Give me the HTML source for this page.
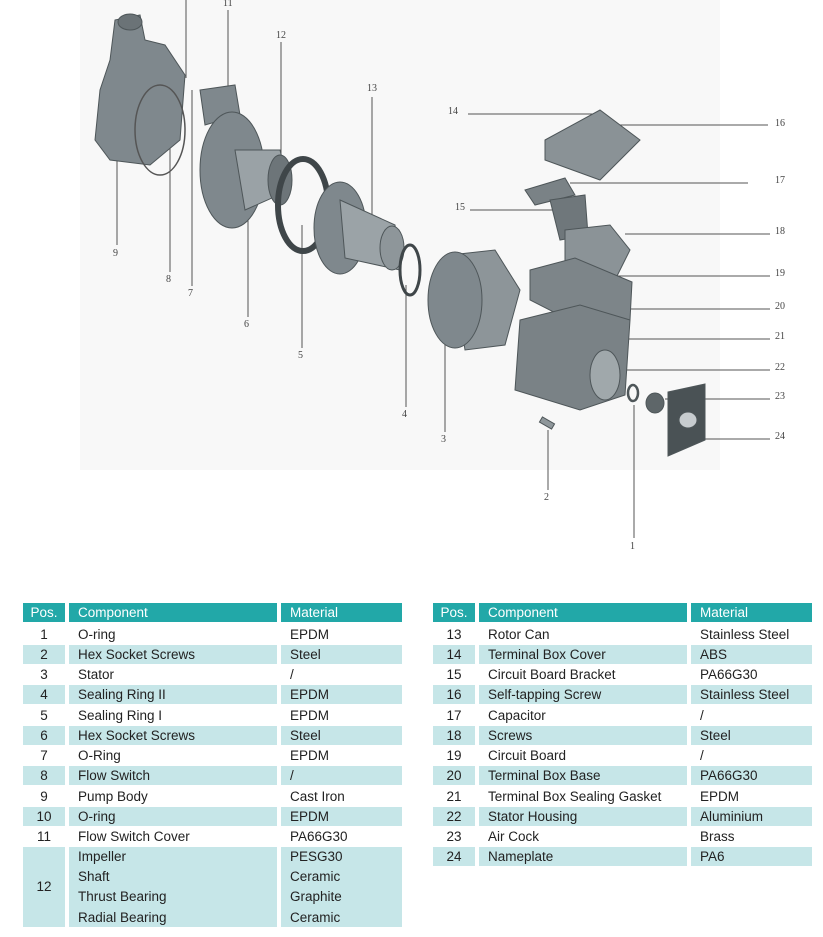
<!DOCTYPE html>
<html><head><meta charset="utf-8"><style>
body{margin:0;width:823px;height:937px;background:#fff;position:relative;overflow:hidden;font-family:"Liberation Sans",sans-serif}
.c{position:absolute;font-size:13.5px;color:#222;line-height:19px;height:19px;white-space:nowrap}
.h{background:#22a8a8;color:#fff}
.s{background:#c6e6e8}
</style></head><body>
<svg width="823" height="590" style="position:absolute;left:0;top:0" font-family="Liberation Serif,serif" font-size="10" fill="#444">
<rect x="80" y="0" width="640" height="470" fill="#f8f8f8"/>
<g stroke="#555" stroke-width="1" fill="none">
<line x1="186" y1="0" x2="186" y2="78"/><line x1="228" y1="10" x2="228" y2="95"/>
<line x1="281" y1="42" x2="281" y2="170"/><line x1="372" y1="97" x2="372" y2="215"/>
<line x1="117" y1="160" x2="117" y2="245"/><line x1="170" y1="80" x2="170" y2="272"/>
<line x1="192" y1="90" x2="192" y2="286"/><line x1="248" y1="130" x2="248" y2="317"/>
<line x1="302" y1="225" x2="302" y2="348"/><line x1="406" y1="285" x2="406" y2="407"/>
<line x1="445" y1="315" x2="445" y2="432"/><line x1="548" y1="430" x2="548" y2="490"/>
<line x1="634" y1="405" x2="634" y2="538"/>
<line x1="468" y1="114" x2="595" y2="114"/><line x1="595" y1="125" x2="768" y2="125"/>
<line x1="570" y1="183" x2="748" y2="183"/><line x1="470" y1="210" x2="560" y2="210"/>
<line x1="625" y1="234" x2="770" y2="234"/><line x1="600" y1="276" x2="770" y2="276"/>
<line x1="600" y1="309" x2="770" y2="309"/><line x1="590" y1="339" x2="770" y2="339"/>
<line x1="625" y1="370" x2="770" y2="370"/><line x1="665" y1="399" x2="770" y2="399"/>
<line x1="680" y1="439" x2="770" y2="439"/>
</g>
<g fill="#7f888d" stroke="#4e5659" stroke-width="1">
<path d="M115 20 L140 15 L145 40 L165 45 L185 75 L180 140 L150 165 L110 160 L95 140 L100 90 L110 60 Z"/>
<ellipse cx="130" cy="22" rx="12" ry="8" fill="#6b7377"/>
<path d="M200 90 L235 85 L240 115 L205 125 Z"/>
<ellipse cx="160" cy="130" rx="25" ry="45" fill="none" stroke="#555" stroke-width="1.5"/>
<ellipse cx="232" cy="170" rx="32" ry="58"/>
<path d="M235 150 L280 150 L290 190 L245 210 Z" fill="#9aa2a6"/>
<ellipse cx="280" cy="180" rx="12" ry="25" fill="#6d7579"/>
<ellipse cx="303" cy="205" rx="25" ry="46" fill="none" stroke="#3f4649" stroke-width="6"/>
<ellipse cx="340" cy="228" rx="26" ry="46"/>
<path d="M340 200 L395 225 L400 270 L345 258 Z" fill="#9ba3a7"/>
<ellipse cx="392" cy="248" rx="12" ry="22" fill="#8e969a"/>
<ellipse cx="410" cy="270" rx="10" ry="25" fill="none" stroke="#3f4649" stroke-width="3"/>
<path d="M450 255 L495 250 L520 290 L505 345 L465 350 Z" fill="#8d9599"/>
<ellipse cx="455" cy="300" rx="27" ry="48"/>
<path d="M545 140 L600 110 L640 140 L600 180 L545 160 Z" fill="#8a9296"/>
<path d="M525 190 L565 178 L575 195 L535 205 Z" fill="#7a8286"/>
<path d="M550 200 L585 195 L588 235 L560 240 Z" fill="#6f777b"/>
<path d="M565 230 L610 225 L630 250 L610 290 L565 280 Z" fill="#8b9397"/>
<path d="M530 270 L575 258 L632 282 L630 320 L585 328 L530 300 Z" fill="#7d8589"/>
<path d="M520 320 L580 305 L630 320 L625 395 L580 410 L515 390 Z" fill="#7a8286"/>
<ellipse cx="605" cy="375" rx="15" ry="25" fill="#a0a8ab"/>
<ellipse cx="633" cy="393" rx="5" ry="8" fill="none" stroke-width="2.5"/>
<ellipse cx="655" cy="403" rx="9" ry="10" fill="#5e6669"/>
<path d="M668 392 L705 384 L705 440 L668 456 Z" fill="#4a5255"/>
<ellipse cx="688" cy="420" rx="9" ry="8" fill="#c7cccf"/>
<rect x="540" y="420" width="14" height="6" transform="rotate(30 547 423)" fill="#8f979b"/>
</g>
<text x="223" y="6">11</text><text x="276" y="38">12</text><text x="367" y="91">13</text>
<text x="113" y="256">9</text><text x="166" y="282">8</text><text x="188" y="296">7</text>
<text x="244" y="327">6</text><text x="298" y="358">5</text><text x="402" y="417">4</text>
<text x="441" y="442">3</text><text x="544" y="500">2</text><text x="630" y="549">1</text>
<text x="448" y="114">14</text><text x="455" y="210">15</text>
<text x="775" y="126">16</text><text x="775" y="183">17</text><text x="775" y="234">18</text>
<text x="775" y="276">19</text><text x="775" y="309">20</text><text x="775" y="339">21</text>
<text x="775" y="370">22</text><text x="775" y="399">23</text><text x="775" y="439">24</text>
</svg>

<div class="c h" style="left:23px;top:603px;width:42px;text-align:center">Pos.</div>
<div class="c h" style="left:69px;top:603px;width:199px;padding-left:9px">Component</div>
<div class="c h" style="left:281px;top:603px;width:112px;padding-left:9px">Material</div>
<div class="c h" style="left:433px;top:603px;width:42px;text-align:center">Pos.</div>
<div class="c h" style="left:479px;top:603px;width:199px;padding-left:9px">Component</div>
<div class="c h" style="left:691px;top:603px;width:112px;padding-left:9px">Material</div>

<div class="c" style="left:23px;top:625px;width:42px;text-align:center">1</div><div class="c" style="left:69px;top:625px;padding-left:9px">O-ring</div><div class="c" style="left:281px;top:625px;padding-left:9px">EPDM</div>
<div class="c s" style="left:23px;top:645px;width:42px;text-align:center">2</div><div class="c s" style="left:69px;top:645px;width:199px;padding-left:9px">Hex Socket Screws</div><div class="c s" style="left:281px;top:645px;width:112px;padding-left:9px">Steel</div>
<div class="c" style="left:23px;top:665px;width:42px;text-align:center">3</div><div class="c" style="left:69px;top:665px;padding-left:9px">Stator</div><div class="c" style="left:281px;top:665px;padding-left:9px">/</div>
<div class="c s" style="left:23px;top:685px;width:42px;text-align:center">4</div><div class="c s" style="left:69px;top:685px;width:199px;padding-left:9px">Sealing Ring II</div><div class="c s" style="left:281px;top:685px;width:112px;padding-left:9px">EPDM</div>
<div class="c" style="left:23px;top:706px;width:42px;text-align:center">5</div><div class="c" style="left:69px;top:706px;padding-left:9px">Sealing Ring I</div><div class="c" style="left:281px;top:706px;padding-left:9px">EPDM</div>
<div class="c s" style="left:23px;top:726px;width:42px;text-align:center">6</div><div class="c s" style="left:69px;top:726px;width:199px;padding-left:9px">Hex Socket Screws</div><div class="c s" style="left:281px;top:726px;width:112px;padding-left:9px">Steel</div>
<div class="c" style="left:23px;top:746px;width:42px;text-align:center">7</div><div class="c" style="left:69px;top:746px;padding-left:9px">O-Ring</div><div class="c" style="left:281px;top:746px;padding-left:9px">EPDM</div>
<div class="c s" style="left:23px;top:766px;width:42px;text-align:center">8</div><div class="c s" style="left:69px;top:766px;width:199px;padding-left:9px">Flow Switch</div><div class="c s" style="left:281px;top:766px;width:112px;padding-left:9px">/</div>
<div class="c" style="left:23px;top:787px;width:42px;text-align:center">9</div><div class="c" style="left:69px;top:787px;padding-left:9px">Pump Body</div><div class="c" style="left:281px;top:787px;padding-left:9px">Cast Iron</div>
<div class="c s" style="left:23px;top:807px;width:42px;text-align:center">10</div><div class="c s" style="left:69px;top:807px;width:199px;padding-left:9px">O-ring</div><div class="c s" style="left:281px;top:807px;width:112px;padding-left:9px">EPDM</div>
<div class="c" style="left:23px;top:827px;width:42px;text-align:center">11</div><div class="c" style="left:69px;top:827px;padding-left:9px">Flow Switch Cover</div><div class="c" style="left:281px;top:827px;padding-left:9px">PA66G30</div>
<div class="c s" style="left:23px;top:847px;width:42px;height:80px;line-height:80px;text-align:center">12</div>
<div class="c s" style="left:69px;top:847px;width:199px;height:80px;line-height:20.2px;padding-left:9px">Impeller<br>Shaft<br>Thrust Bearing<br>Radial Bearing</div>
<div class="c s" style="left:281px;top:847px;width:112px;height:80px;line-height:20.2px;padding-left:9px">PESG30<br>Ceramic<br>Graphite<br>Ceramic</div>

<div class="c" style="left:433px;top:625px;width:42px;text-align:center">13</div><div class="c" style="left:479px;top:625px;padding-left:9px">Rotor Can</div><div class="c" style="left:691px;top:625px;padding-left:9px">Stainless Steel</div>
<div class="c s" style="left:433px;top:645px;width:42px;text-align:center">14</div><div class="c s" style="left:479px;top:645px;width:199px;padding-left:9px">Terminal Box Cover</div><div class="c s" style="left:691px;top:645px;width:112px;padding-left:9px">ABS</div>
<div class="c" style="left:433px;top:665px;width:42px;text-align:center">15</div><div class="c" style="left:479px;top:665px;padding-left:9px">Circuit Board Bracket</div><div class="c" style="left:691px;top:665px;padding-left:9px">PA66G30</div>
<div class="c s" style="left:433px;top:685px;width:42px;text-align:center">16</div><div class="c s" style="left:479px;top:685px;width:199px;padding-left:9px">Self-tapping Screw</div><div class="c s" style="left:691px;top:685px;width:112px;padding-left:9px">Stainless Steel</div>
<div class="c" style="left:433px;top:706px;width:42px;text-align:center">17</div><div class="c" style="left:479px;top:706px;padding-left:9px">Capacitor</div><div class="c" style="left:691px;top:706px;padding-left:9px">/</div>
<div class="c s" style="left:433px;top:726px;width:42px;text-align:center">18</div><div class="c s" style="left:479px;top:726px;width:199px;padding-left:9px">Screws</div><div class="c s" style="left:691px;top:726px;width:112px;padding-left:9px">Steel</div>
<div class="c" style="left:433px;top:746px;width:42px;text-align:center">19</div><div class="c" style="left:479px;top:746px;padding-left:9px">Circuit Board</div><div class="c" style="left:691px;top:746px;padding-left:9px">/</div>
<div class="c s" style="left:433px;top:766px;width:42px;text-align:center">20</div><div class="c s" style="left:479px;top:766px;width:199px;padding-left:9px">Terminal Box Base</div><div class="c s" style="left:691px;top:766px;width:112px;padding-left:9px">PA66G30</div>
<div class="c" style="left:433px;top:787px;width:42px;text-align:center">21</div><div class="c" style="left:479px;top:787px;padding-left:9px">Terminal Box Sealing Gasket</div><div class="c" style="left:691px;top:787px;padding-left:9px">EPDM</div>
<div class="c s" style="left:433px;top:807px;width:42px;text-align:center">22</div><div class="c s" style="left:479px;top:807px;width:199px;padding-left:9px">Stator Housing</div><div class="c s" style="left:691px;top:807px;width:112px;padding-left:9px">Aluminium</div>
<div class="c" style="left:433px;top:827px;width:42px;text-align:center">23</div><div class="c" style="left:479px;top:827px;padding-left:9px">Air Cock</div><div class="c" style="left:691px;top:827px;padding-left:9px">Brass</div>
<div class="c s" style="left:433px;top:847px;width:42px;text-align:center">24</div><div class="c s" style="left:479px;top:847px;width:199px;padding-left:9px">Nameplate</div><div class="c s" style="left:691px;top:847px;width:112px;padding-left:9px">PA6</div>
</body></html>
